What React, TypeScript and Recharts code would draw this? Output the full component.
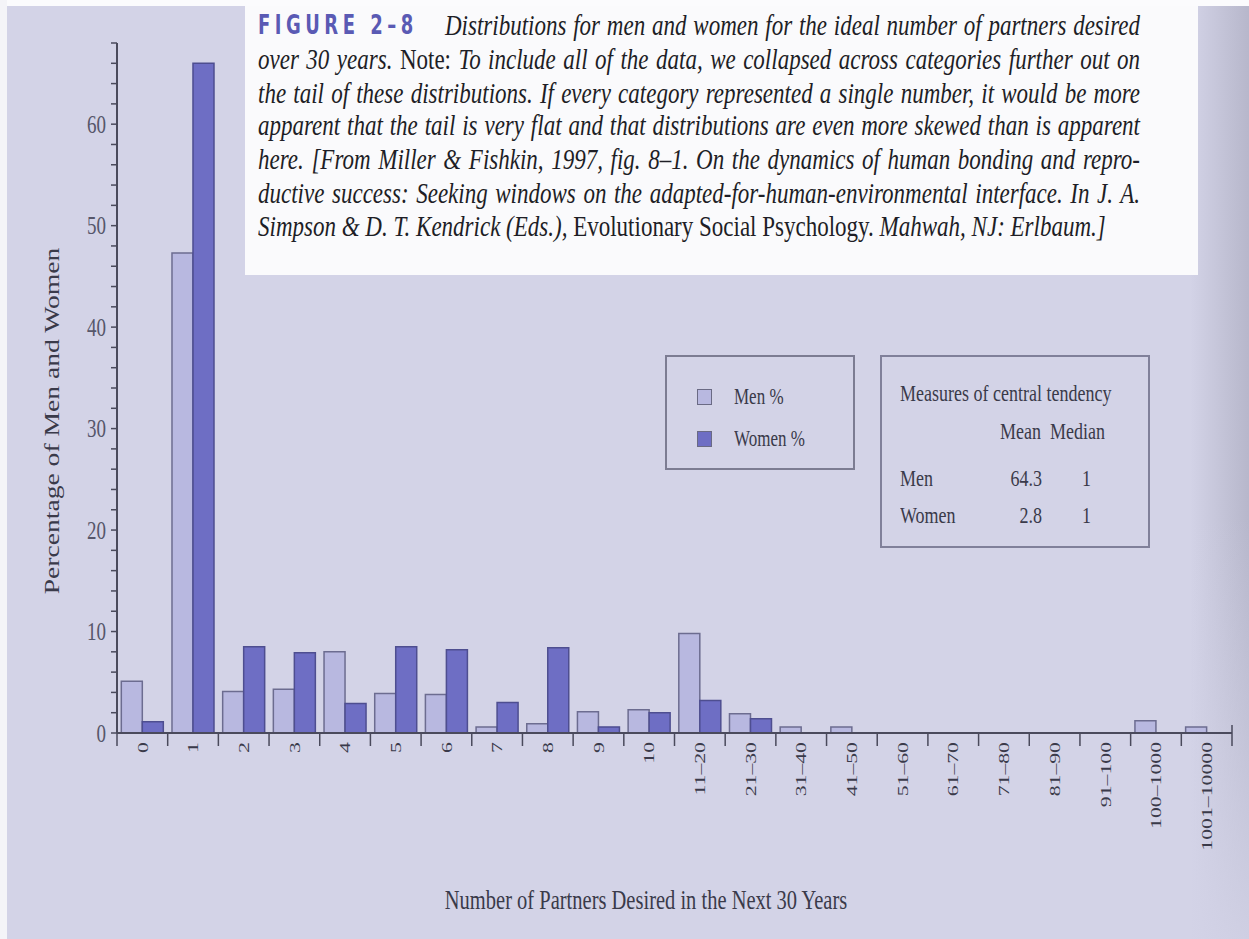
import React from 'react';
import { BarChart, Bar, XAxis, YAxis, Legend, Label } from 'recharts';

// categories of desired partners, share of respondents (%)
const categories = [
  '0', '1', '2', '3', '4', '5', '6', '7', '8', '9', '10',
  '11–20', '21–30', '31–40', '41–50', '51–60', '61–70', '71–80', '81–90', '91–100',
  '100–1000', '1001–10000',
];
const menPct = [5.1, 47.3, 4.1, 4.3, 8.0, 3.9, 3.8, 0.6, 0.9, 2.1, 2.3, 9.8, 1.9, 0.6, 0.6, 0, 0, 0, 0, 0, 1.2, 0.6];
const womenPct = [1.1, 66.0, 8.5, 7.9, 2.9, 8.5, 8.2, 3.0, 8.4, 0.6, 2.0, 3.2, 1.4, 0, 0, 0, 0, 0, 0, 0, 0, 0];

const yTicks = [0, 2, 4, 6, 8, 10, 12, 14, 16, 18, 20, 22, 24, 26, 28, 30, 32, 34, 36, 38, 40, 42, 44, 46, 48, 50, 52, 54, 56, 58, 60, 62, 64, 66, 68];
const yLabelTicks = [0, 10, 20, 30, 40, 50, 60];

const statGroups = ['Men', 'Women'];
const statMeans = ['64.3', '2.8'];
const statMedians = ['1', '1'];

const data = categories.map((c, i) => ({ category: c, men: menPct[i], women: womenPct[i] }));

const W = 1249;
const H = 939;
const MARGIN = { top: 43, right: 17, bottom: 46, left: 0 };
const Y_AXIS_W = 117;
const X_AXIS_H = 160;
const BAND = (W - MARGIN.left - MARGIN.right - Y_AXIS_W) / categories.length;

const SERIF = "'Liberation Serif', 'DejaVu Serif', serif";
const INK = '#3a3a4a';
const AXIS = '#4a4a5c';
const MEN_FILL = '#b8b8e0';
const WOMEN_FILL = '#6e6ec4';

const renderYTick = (props: any) => {
  const { x, y, payload } = props;
  if (!yLabelTicks.includes(payload.value)) return <g />;
  return (
    <text
      transform={`translate(${x - 3} ${y}) scale(1 1.35)`}
      textAnchor="end"
      dominantBaseline="central"
      fontSize={19}
      fontFamily={SERIF}
      fill="#56566a"
    >
      {payload.value}
    </text>
  );
};

const renderXTick = (props: any) => {
  const { x, y, payload, index } = props;
  return (
    <g>
      <line x1={x - BAND / 2} x2={x - BAND / 2} y1={y} y2={y + 13} stroke={AXIS} strokeWidth={1.5} />
      {index === categories.length - 1 && (
        <line x1={x + BAND / 2} x2={x + BAND / 2} y1={y - 8} y2={y + 13} stroke={AXIS} strokeWidth={1.5} />
      )}
      <text
        transform={`translate(${x} ${y + 9}) rotate(-90) scale(1.45 1)`}
        textAnchor="end"
        dominantBaseline="central"
        fontSize={15}
        fontFamily={SERIF}
        fill={INK}
      >
        {payload.value}
      </text>
    </g>
  );
};

const renderLegend = (props: any) => {
  const { payload } = props;
  return (
    <div
      style={{
        width: 190,
        height: 115,
        border: '2px solid #7c7c92',
        boxSizing: 'border-box',
        position: 'relative',
      }}
    >
      {(payload || []).map((entry: any, i: number) => (
        <div
          key={entry.value}
          style={{ position: 'absolute', left: 30, top: 30 + i * 42, display: 'flex', alignItems: 'center' }}
        >
          <span
            style={{
              display: 'inline-block',
              width: 15,
              height: 16,
              background: entry.color,
              border: '1px solid #6a6a84',
              boxSizing: 'border-box',
            }}
          />
          <span
            style={{
              marginLeft: 22,
              fontSize: 17,
              fontFamily: SERIF,
              color: INK,
              display: 'inline-block',
              transform: 'scaleY(1.3)',
            }}
          >
            {entry.value}
          </span>
        </div>
      ))}
    </div>
  );
};

const captionLine: React.CSSProperties = {
  width: 882,
  textAlign: 'justify',
  textAlignLast: 'justify',
  whiteSpace: 'nowrap',
  fontStyle: 'italic',
};

const Caption = () => (
  <div
    style={{
      position: 'absolute',
      left: 245,
      top: 6,
      width: 953,
      height: 269,
      background: '#fafafc',
    }}
  >
    <div
      style={{
        position: 'absolute',
        left: 13,
        top: 3,
        transform: 'scaleY(1.3)',
        transformOrigin: 'top left',
        fontFamily: SERIF,
        fontSize: 23,
        lineHeight: '25.8px',
        color: '#1e1e26',
      }}
    >
      <div style={{ display: 'flex', width: 882 }}>
        <span
          style={{
            width: 187,
            flex: 'none',
            fontFamily: "'DejaVu Sans Condensed', 'DejaVu Sans', sans-serif",
            fontWeight: 'bold',
            fontSize: 20,
            letterSpacing: 4.5,
            color: '#5a5ab4',
          }}
        >
          FIGURE 2–8
        </span>
        <div style={{ ...captionLine, width: 695 }}>
          Distributions for men and women for the ideal number of partners desired
        </div>
      </div>
      <div style={captionLine}>
        over 30 years. <span style={{ fontStyle: 'normal' }}>Note:</span> To include all of the data, we collapsed across categories further out on
      </div>
      <div style={captionLine}>
        the tail of these distributions. If every category represented a single number, it would be more
      </div>
      <div style={captionLine}>
        apparent that the tail is very flat and that distributions are even more skewed than is apparent
      </div>
      <div style={captionLine}>
        here. [From Miller &amp; Fishkin, 1997, fig. 8–1. On the dynamics of human bonding and repro-
      </div>
      <div style={captionLine}>
        ductive success: Seeking windows on the adapted-for-human-environmental interface. In J. A.
      </div>
      <div style={{ ...captionLine, textAlign: 'left', textAlignLast: 'left' }}>
        Simpson &amp; D. T. Kendrick (Eds.), <span style={{ fontStyle: 'normal' }}>Evolutionary Social Psychology.</span> Mahwah, NJ: Erlbaum.]
      </div>
    </div>
  </div>
);

const statText = (left: number, top: number, text: string, align: 'left' | 'right' = 'left') => (
  <span
    key={`${left}-${top}-${text}`}
    style={{
      position: 'absolute',
      left: align === 'left' ? left : undefined,
      right: align === 'right' ? left : undefined,
      top,
      fontFamily: SERIF,
      fontSize: 18,
      lineHeight: '20px',
      color: INK,
      transform: 'scaleY(1.3)',
      whiteSpace: 'nowrap',
    }}
  >
    {text}
  </span>
);

const StatsBox = () => (
  <div
    style={{
      position: 'absolute',
      left: 880,
      top: 355,
      width: 270,
      height: 193,
      border: '2px solid #80809a',
      boxSizing: 'border-box',
    }}
  >
    {statText(18, 26, 'Measures of central tendency')}
    {statText(118, 64, 'Mean')}
    {statText(168, 64, 'Median')}
    {statGroups.map((g, i) => [
      statText(18, 111 + i * 37, g),
      statText(106, 111 + i * 37, statMeans[i], 'right'),
      statText(57, 111 + i * 37, statMedians[i], 'right'),
    ])}
  </div>
);

export default function App() {
  return (
    <div
      style={{
        position: 'absolute',
        left: 0,
        top: 0,
        width: W,
        height: H,
        overflow: 'hidden',
        background: '#d3d3e7',
      }}
    >
      <div
        style={{
          position: 'absolute',
          left: 1190,
          top: 0,
          width: 59,
          height: H,
          background:
            'linear-gradient(to bottom, rgba(211,211,231,0) 0%, rgba(211,211,231,0) 55%, rgba(211,211,231,0.85) 100%), linear-gradient(to right, rgba(120,120,140,0) 0%, rgba(110,110,130,0.28) 100%)',
        }}
      />
      <div style={{ position: 'absolute', left: 0, top: 0, width: W, height: 6, background: '#fbfbfd' }} />
      <div style={{ position: 'absolute', left: 0, top: 0, width: 7, height: H, background: '#f4f4f8' }} />
      <div style={{ position: 'absolute', left: 0, top: 0 }}>
        <BarChart
          width={W}
          height={H}
          data={data}
          margin={MARGIN}
          barCategoryGap="8.5%"
          barGap={0}
        >
          <XAxis
            dataKey="category"
            interval={0}
            height={X_AXIS_H}
            tickLine={false}
            tickSize={0}
            tickMargin={0}
            axisLine={{ stroke: AXIS, strokeWidth: 2 }}
            tick={renderXTick}
          >
            <Label
              content={() => (
                <text
                  transform="translate(646 900) scale(1 1.3)"
                  textAnchor="middle"
                  dominantBaseline="central"
                  fontSize={20.5}
                  fontFamily={SERIF}
                  fill={INK}
                >
                  Number of Partners Desired in the Next 30 Years
                </text>
              )}
            />
          </XAxis>
          <YAxis
            type="number"
            domain={[0, 68]}
            ticks={yTicks}
            interval={0}
            width={Y_AXIS_W}
            tickSize={6}
            tickMargin={2}
            axisLine={{ stroke: AXIS, strokeWidth: 2 }}
            tickLine={{ stroke: AXIS, strokeWidth: 1.5 }}
            tick={renderYTick}
          >
            <Label
              content={() => (
                <text
                  transform="translate(52 421) rotate(-90) scale(1.38 1)"
                  textAnchor="middle"
                  dominantBaseline="central"
                  fontSize={20}
                  fontFamily={SERIF}
                  fill={INK}
                >
                  Percentage of Men and Women
                </text>
              )}
            />
          </YAxis>
          <Legend
            layout="vertical"
            align="center"
            verticalAlign="middle"
            content={renderLegend}
            wrapperStyle={{ left: 665, top: 355, width: 190, height: 115 }}
          />
          <Bar
            dataKey="men"
            name="Men %"
            fill={MEN_FILL}
            stroke="#6c6c90"
            strokeWidth={1.5}
            isAnimationActive={false}
          />
          <Bar
            dataKey="women"
            name="Women %"
            fill={WOMEN_FILL}
            stroke="#4e4e90"
            strokeWidth={1.5}
            isAnimationActive={false}
          />
        </BarChart>
      </div>
      <Caption />
      <StatsBox />
    </div>
  );
}
